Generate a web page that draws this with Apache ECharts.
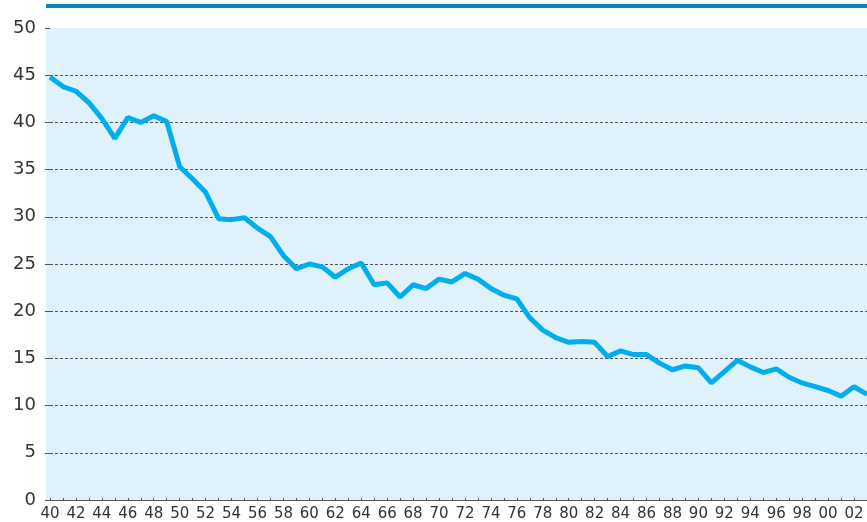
<!DOCTYPE html>
<html>
<head>
<meta charset="utf-8">
<script src="https://cdn.jsdelivr.net/npm/echarts@6/dist/echarts.min.js"></script>
<style>
  html, body { margin: 0; padding: 0; background: #fff; }
  #main { width: 867px; height: 522px; }
</style>
</head>
<body>
<div id="main"></div>
<script>
// years 1940..2003
const years = [];
for (let y = 1940; y <= 2003; y++) years.push(String(y));

const values = [
  44.8, 43.8, 43.3, 42.1, 40.4, 38.3, 40.5, 40.0, 40.7, 40.1,
  35.3, 34.0, 32.6, 29.8, 29.7, 29.9, 28.8, 27.9, 25.9, 24.5,
  25.0, 24.7, 23.6, 24.5, 25.1, 22.8, 23.0, 21.5, 22.8, 22.4,
  23.4, 23.1, 24.0, 23.4, 22.4, 21.7, 21.3, 19.3, 18.0, 17.2,
  16.7, 16.8, 16.7, 15.2, 15.8, 15.4, 15.4, 14.5, 13.8, 14.2,
  14.0, 12.4, 13.6, 14.8, 14.1, 13.5, 13.9, 13.0, 12.4, 12.0,
  11.6, 11.0, 12.0, 11.2
];

const yMin = 0;
const yMax = 50;
const yStep = 5;

const myChart = echarts.init(document.getElementById('main'));

const option = {
  animation: false,
  backgroundColor: '#ffffff',
  textStyle: { fontFamily: 'DejaVu Sans' },
  graphic: [{
    // top rule
    type: 'rect',
    left: 46,
    top: 4,
    shape: { width: 821, height: 4 },
    style: { fill: '#0b83b6' }
  }, {
    // plot background, starts a bit left of the first year
    type: 'rect',
    left: 46,
    top: 28,
    z: -10,
    shape: { width: 821, height: 472 },
    style: { fill: '#dff2fc' }
  }],
  grid: {
    left: 50,
    right: -4,
    top: 28,
    bottom: 22
  },
  xAxis: {
    type: 'category',
    data: years,
    boundaryGap: false,
    axisLine: { lineStyle: { color: '#555', width: 1 } },
    axisTick: { interval: 0, inside: true, length: 2, lineStyle: { color: '#555' } },
    axisLabel: {
      interval: 1,
      margin: 7,
      color: '#333',
      fontSize: 15,
      formatter: v => v.slice(2)
    },
    splitLine: { show: false }
  },
  yAxis: {
    type: 'value',
    min: yMin,
    max: yMax,
    interval: yStep,
    axisLine: { show: false },
    axisTick: { show: true, length: 5, lineStyle: { color: '#555' } },
    axisLabel: { color: '#333', fontSize: 18, margin: 14 },
    splitLine: {
      show: true,
      showMaxLine: false,
      lineStyle: { color: '#555', type: [3, 2], width: 1 }
    }
  },
  series: [{
    type: 'line',
    data: values,
    symbol: 'none',
    lineStyle: { color: '#00aeef', width: 5 },
    itemStyle: { color: '#00aeef' }
  }]
};

myChart.setOption(option);
</script>
</body>
</html>
